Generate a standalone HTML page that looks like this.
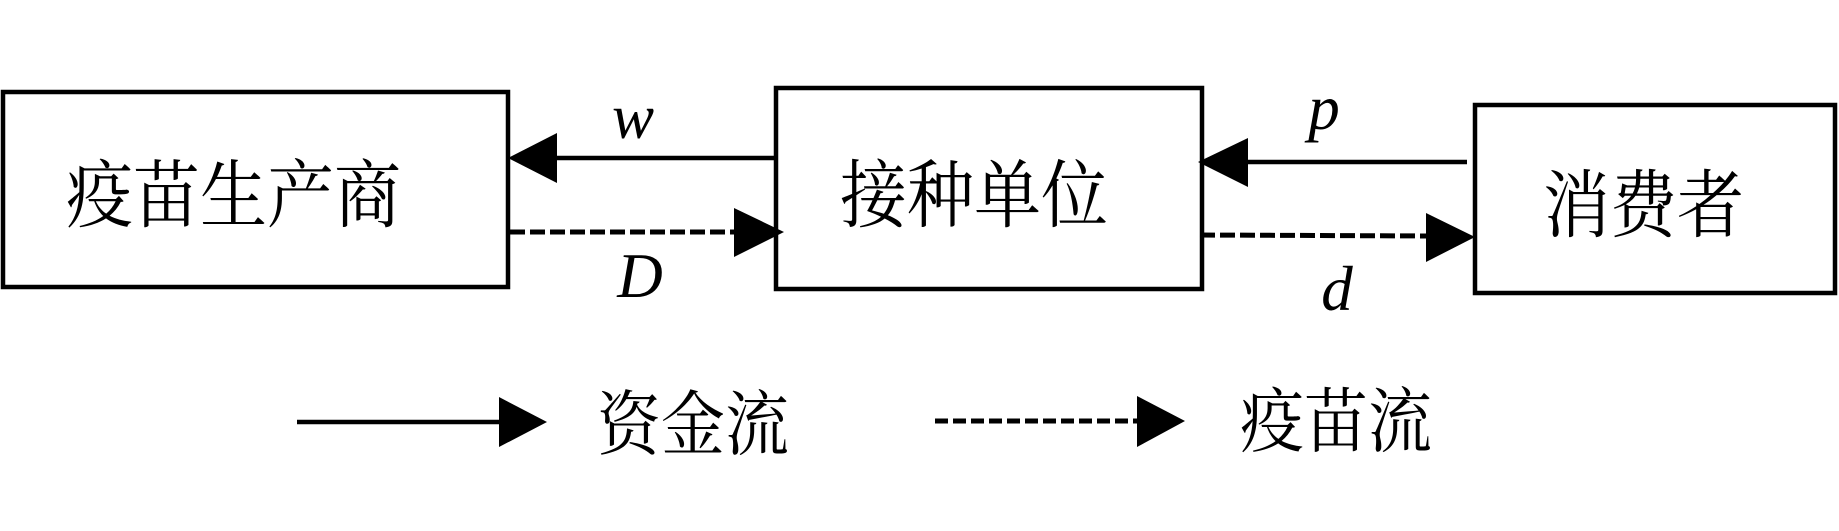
<!DOCTYPE html>
<html>
<head>
<meta charset="utf-8">
<style>
html,body{margin:0;padding:0;background:#fff;}
svg{display:block;}
.cjk{font-family:"Liberation Serif","Noto Serif CJK SC","Noto Sans CJK SC",serif;fill:#000;}
.it{font-family:"Liberation Serif",serif;font-style:italic;fill:#000;font-size:63px;}
</style>
</head>
<body>
<svg width="1839" height="531" viewBox="0 0 1839 531" xmlns="http://www.w3.org/2000/svg">
  <rect x="0" y="0" width="1839" height="531" fill="#fff"/>
  <!-- boxes -->
  <rect x="3" y="92" width="505" height="195" fill="none" stroke="#000" stroke-width="4.5"/>
  <rect x="776" y="88" width="426" height="201" fill="none" stroke="#000" stroke-width="4.5"/>
  <rect x="1475" y="105" width="360" height="188" fill="none" stroke="#000" stroke-width="4.5"/>

  <!-- box labels -->
  <g transform="translate(66,221) scale(1,1.1)">
    <text class="cjk" x="0" y="0" font-size="67" textLength="335" lengthAdjust="spacingAndGlyphs">疫苗生产商</text>
  </g>
  <g transform="translate(840,221) scale(1,1.1)">
    <text class="cjk" x="0" y="0" font-size="67" textLength="268" lengthAdjust="spacingAndGlyphs">接种单位</text>
  </g>
  <g transform="translate(1543,231) scale(1,1.1)">
    <text class="cjk" x="0" y="0" font-size="67" textLength="201" lengthAdjust="spacingAndGlyphs">消费者</text>
  </g>

  <!-- w arrow -->
  <line x1="776" y1="158" x2="552" y2="158" stroke="#000" stroke-width="4.5"/>
  <polygon points="508,158 557,133 557,183" fill="#000"/>
  <text class="it" x="633" y="138" text-anchor="middle">w</text>

  <!-- D dashed arrow -->
  <line x1="510" y1="232" x2="738" y2="232" stroke="#000" stroke-width="5" stroke-dasharray="15,5"/>
  <polygon points="784,232 734,208 734,257" fill="#000"/>
  <text class="it" x="640" y="297" text-anchor="middle">D</text>

  <!-- p arrow -->
  <line x1="1467" y1="162" x2="1242" y2="162" stroke="#000" stroke-width="4.5"/>
  <polygon points="1198,162 1248,138 1248,187" fill="#000"/>
  <text class="it" x="1324" y="129" text-anchor="middle">p</text>

  <!-- d dashed arrow -->
  <line x1="1200" y1="235" x2="1430" y2="236" stroke="#000" stroke-width="5" stroke-dasharray="15,5"/>
  <polygon points="1475,237 1426,213 1426,262" fill="#000"/>
  <text class="it" x="1337" y="310" text-anchor="middle">d</text>

  <!-- legend -->
  <line x1="297" y1="422" x2="503" y2="422" stroke="#000" stroke-width="4.5"/>
  <polygon points="547,422 499,397 499,447" fill="#000"/>
  <g transform="translate(597,449) scale(1,1.1)">
    <text class="cjk" x="0" y="0" font-size="64" textLength="192" lengthAdjust="spacingAndGlyphs">资金流</text>
  </g>

  <line x1="935" y1="421" x2="1141" y2="421" stroke="#000" stroke-width="5" stroke-dasharray="13,5"/>
  <polygon points="1185,421 1137,396 1137,447" fill="#000"/>
  <g transform="translate(1240,446) scale(1,1.1)">
    <text class="cjk" x="0" y="0" font-size="64" textLength="192" lengthAdjust="spacingAndGlyphs">疫苗流</text>
  </g>
</svg>
</body>
</html>
